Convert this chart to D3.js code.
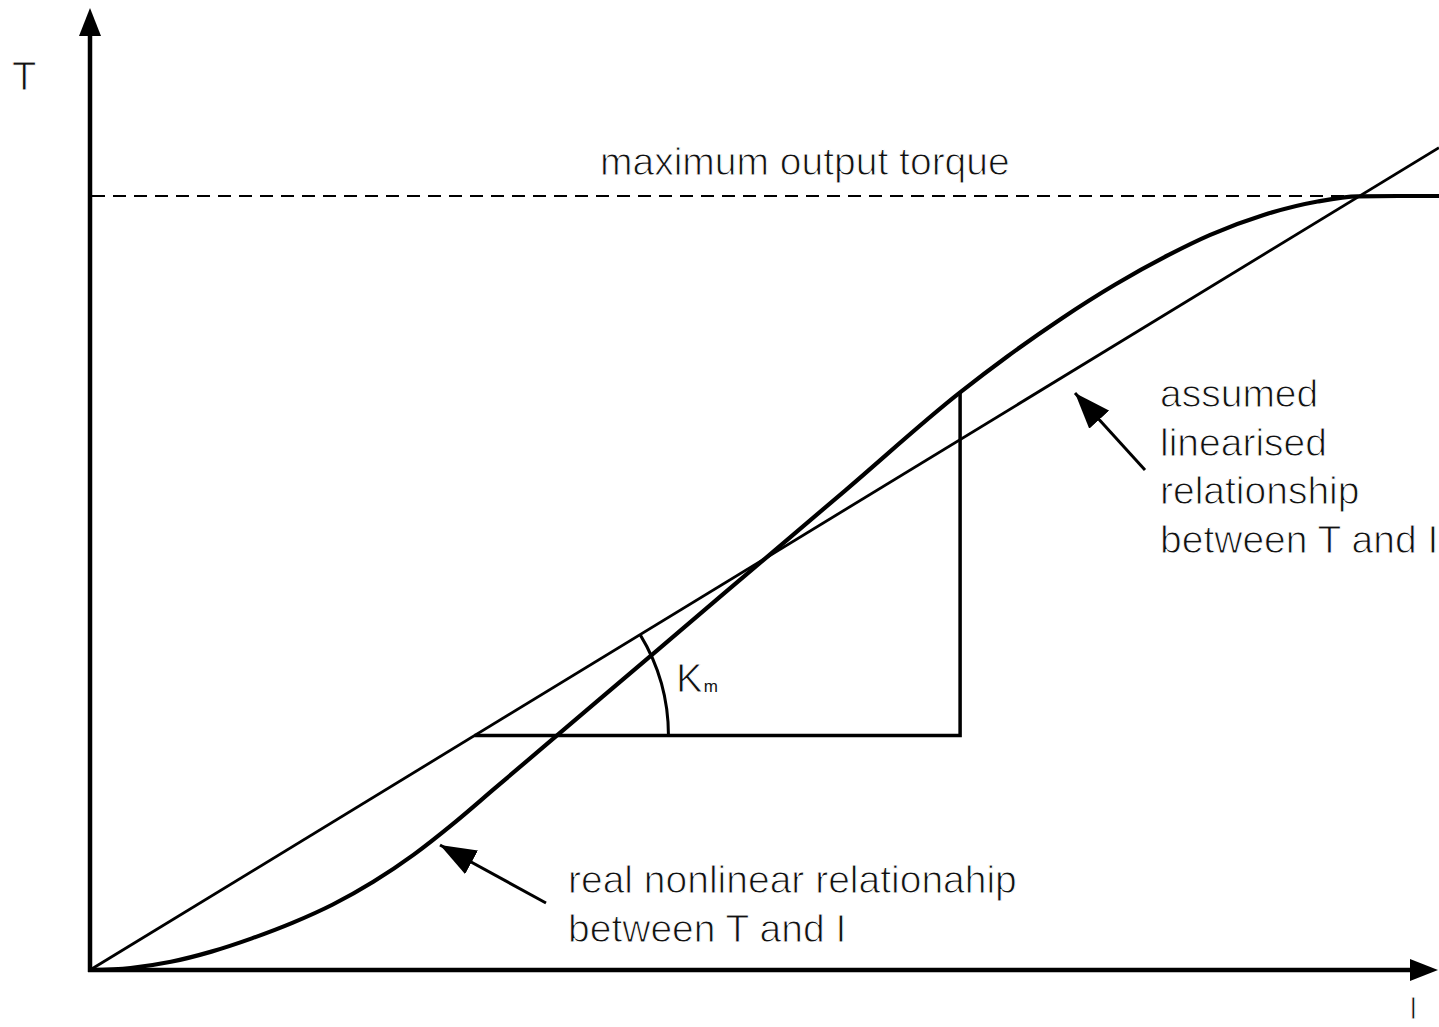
<!DOCTYPE html>
<html>
<head>
<meta charset="utf-8">
<script src="https://cdn.jsdelivr.net/npm/d3@7"></script>
<style>
  html, body { margin: 0; padding: 0; background: #fff; }
  svg { display: block; }
  text {
    font-family: "Liberation Sans", Arial, Helvetica, sans-serif;
    fill: #111;
    stroke: #fff;
    stroke-width: 1px;
  }
</style>
</head>
<body>
<svg id="chart" width="1439" height="1027"></svg>
<script>
// Current I (arbitrary units, 0..100) and the real, nonlinear torque T
const currentI   = [0, 3, 6, 9, 12, 15, 18, 21, 24, 27, 30, 38, 47, 56, 64.5, 68, 72, 76, 80, 83, 87, 91, 94, 97, 100];
const torqueReal = [0, 0.21, 0.85, 1.9, 3.27, 4.87, 6.77, 9.12, 11.93, 15.21, 18.77, 28.25, 38.92, 49.58, 59.7, 63.41, 67.32, 70.85, 73.94, 75.96, 78.04, 79.43, 79.97, 80, 80];

// Linearised model T = Km * I, and the torque ceiling
const Km = 0.85;
const linearI = [0, 100];
const maxTorque = 80;

// Slope triangle drawn under the linear model
const triangleI = [28.5, 64.5];

// Text
const axisLabels = { y: "T", x: "I" };
const maxLabel = "maximum output torque";
const realLabel = ["real nonlinear relationahip", "between T and I"];
const linLabel = ["assumed", "linearised", "relationship", "between T and I"];

const svg = d3.select("#chart");

const x = d3.scaleLinear().domain([0, 100]).range([90, 1439]);
const y = d3.scaleLinear().domain([0, maxTorque]).range([970, 196]);

const black = "#000";

// Arrowhead used by the two annotation pointers
const defs = svg.append("defs");
defs.append("marker")
  .attr("id", "ann-head")
  .attr("viewBox", "0 0 12 9")
  .attr("refX", 12).attr("refY", 4.5)
  .attr("markerWidth", 12).attr("markerHeight", 9)
  .attr("markerUnits", "strokeWidth")
  .attr("orient", "auto")
  .append("path").attr("d", "M0,0 L12,4.5 L0,9 Z").attr("fill", black);

// Dashed maximum torque line
svg.append("line")
  .attr("x1", x(0) + 2).attr("x2", x(93))
  .attr("y1", y(maxTorque)).attr("y2", y(maxTorque))
  .attr("stroke", black).attr("stroke-width", 2)
  .attr("stroke-dasharray", "13 8");

svg.append("text")
  .attr("x", 600).attr("y", 175)
  .attr("font-size", 39)
  .text(maxLabel);

// Linearised relationship
svg.append("path")
  .datum(linearI)
  .attr("d", d3.line().x(d => x(d)).y(d => y(Km * d)))
  .attr("fill", "none").attr("stroke", black).attr("stroke-width", 2.8);

// Real nonlinear relationship
const realPts = currentI.map((v, i) => [v, torqueReal[i]]);
svg.append("path")
  .datum(realPts)
  .attr("d", d3.line().x(d => x(d[0])).y(d => y(d[1])).curve(d3.curveMonotoneX))
  .attr("fill", "none").attr("stroke", black).attr("stroke-width", 4.2)
  .attr("stroke-linejoin", "round");

// Slope triangle
const triBaseT = Km * triangleI[0];
const triTopT = torqueReal[currentI.indexOf(triangleI[1])];
svg.append("path")
  .attr("d", d3.line()([
    [x(triangleI[0]), y(triBaseT)],
    [x(triangleI[1]), y(triBaseT)],
    [x(triangleI[1]), y(triTopT)]
  ]))
  .attr("fill", "none").attr("stroke", black).attr("stroke-width", 3.5);

// Angle arc marking Km
const cx = x(triangleI[0]), cy = y(triBaseT);
const pxSlope = (y(0) - y(Km * 100)) / (x(100) - x(0));
const ang = Math.atan(pxSlope);
const r = 194;
const arcPath = d3.path();
arcPath.moveTo(cx + r, cy);
arcPath.arc(cx, cy, r, 0, -ang, true);
svg.append("path")
  .attr("d", arcPath.toString())
  .attr("fill", "none").attr("stroke", black).attr("stroke-width", 3);

const kmText = svg.append("text").attr("x", 676).attr("y", 692).attr("font-size", 40);
kmText.append("tspan").text("K");
kmText.append("tspan").attr("font-size", 17).attr("dx", 1).style("stroke-width", "0px").text("m");

// Axes with arrowheads
svg.append("line")
  .attr("x1", x(0)).attr("x2", x(0))
  .attr("y1", y(0) + 2).attr("y2", 30)
  .attr("stroke", black).attr("stroke-width", 4.5);
svg.append("path")
  .attr("d", `M${x(0)},8 L${x(0) + 11},36 L${x(0) - 11},36 Z`)
  .attr("fill", black);

svg.append("line")
  .attr("x1", x(0) - 2).attr("x2", 1412)
  .attr("y1", y(0)).attr("y2", y(0))
  .attr("stroke", black).attr("stroke-width", 4.5);
svg.append("path")
  .attr("d", `M1438,${y(0)} L1410,${y(0) - 11} L1410,${y(0) + 11} Z`)
  .attr("fill", black);

svg.append("text").attr("x", 12).attr("y", 90).attr("font-size", 40).text(axisLabels.y);
svg.append("text").attr("x", 1409).attr("y", 1019).attr("font-size", 31).text(axisLabels.x);

// Annotation: real curve
svg.append("line")
  .attr("x1", 546).attr("y1", 903).attr("x2", 440).attr("y2", 845)
  .attr("stroke", black).attr("stroke-width", 3)
  .attr("marker-end", "url(#ann-head)");
svg.append("text")
  .attr("font-size", 39)
  .selectAll("tspan").data(realLabel).join("tspan")
  .attr("x", 568).attr("y", (d, i) => 893 + i * 49)
  .text(d => d);

// Annotation: linearised line
svg.append("line")
  .attr("x1", 1145).attr("y1", 470).attr("x2", 1075).attr("y2", 393)
  .attr("stroke", black).attr("stroke-width", 3)
  .attr("marker-end", "url(#ann-head)");
svg.append("text")
  .attr("font-size", 39)
  .selectAll("tspan").data(linLabel).join("tspan")
  .attr("x", 1160).attr("y", (d, i) => 407 + i * 48.7)
  .text(d => d);
</script>
</body>
</html>
